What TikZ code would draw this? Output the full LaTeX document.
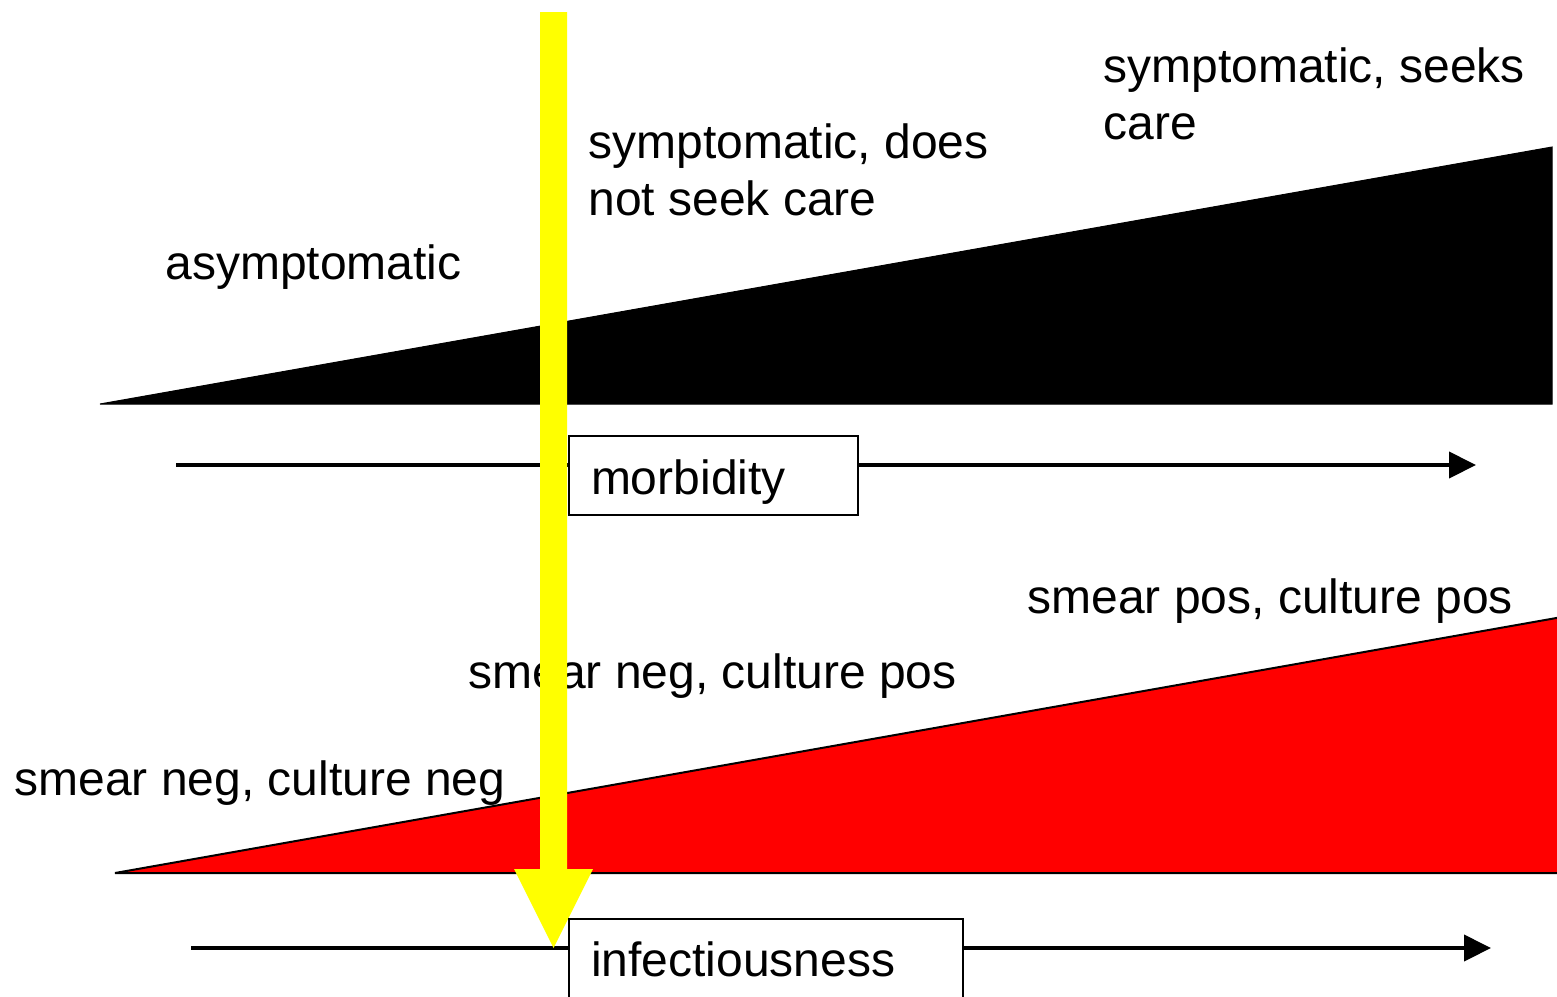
\documentclass[tikz,border=0pt]{standalone}
\usepackage{fontspec}
\setmainfont{Liberation Sans}
\usetikzlibrary{arrows.meta,calc}
\definecolor{arrowyellow}{RGB}{255,255,0}
\definecolor{wedgered}{RGB}{255,0,0}

\begin{document}
\begin{tikzpicture}[x=0.5pt,y=-0.5pt,>={Triangle[length=13.5pt,width=13pt]},
	lbl/.style={anchor=base west,inner sep=0pt,align=left,font=\fontsize{24}{28.5}\selectfont},
	axisbox/.style={draw,line width=1pt,fill=white,anchor=north west,inner xsep=11pt,inner ysep=0pt,align=left,font=\fontsize{24}{28.5}\selectfont}]
	\def\shaft{13.5}
	\def\head{39.5}
	\def\headlen{79}
	\clip (0,0) rectangle (1557,996);
	\fill[white] (0,0) rectangle (1557,996);
	\filldraw[line width=0.5pt] (100,404)--(1552,147)--(1552,404)--cycle;
	\filldraw[fill=wedgered,line width=1pt] (115,873)--(1562,617)--(1562,873)--cycle;
	\node[lbl] (symc) at (1103,139) {symptomatic, seeks\\care};
	\node[lbl] (symnc) at (588,215) {symptomatic, does\\not seek care};
	\node[lbl] (asym) at (165,279) {asymptomatic};
	\node[lbl] (spp) at (1027,613) {smear pos, culture pos};
	\node[lbl] (snp) at (468,688) {smear neg, culture pos};
	\node[lbl] (snn) at (14,795) {smear neg, culture neg};
	\coordinate (mstart) at (176,465);
	\coordinate (mend) at (1476,465);
	\coordinate (istart) at (191,948);
	\coordinate (iend) at (1491,948);
	\draw[->,line width=2pt] (mstart)--(mend);
	\draw[->,line width=2pt] (istart)--(iend);
	\coordinate (ytop) at (553.5,12);
	\coordinate (ytip) at (553.5,948);
	\fill[fill=arrowyellow] ($(ytop)+(-\shaft,0)$)--($(ytop)+(\shaft,0)$)--($(ytip)+(\shaft,-\headlen)$)--($(ytip)+(\head,-\headlen)$)--(ytip)
		--($(ytip)+(-\head,-\headlen)$)--($(ytip)+(-\shaft,-\headlen)$)--cycle;
	\node[axisbox,text width=122.5pt,text height=29pt,text depth=10.5pt] (morb) at (568,435) {morbidity};
	\node[axisbox,text width=175pt,text height=28.5pt,text depth=20pt] (infect) at (568,918) {infectiousness};
\end{tikzpicture}
\end{document}
